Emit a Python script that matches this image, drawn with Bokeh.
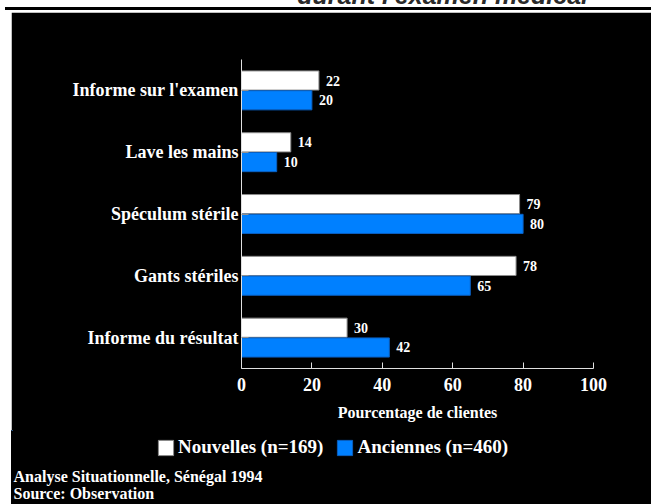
from bokeh.plotting import figure
from bokeh.models import (ColumnDataSource, FactorRange, Range1d, FixedTicker,
                          Legend, LegendItem, Label, Div)
from bokeh.transform import dodge
from bokeh.core.properties import value
from bokeh.embed import file_html
from bokeh.resources import INLINE

# ---- data ----
categories = ["Informe sur l'examen", "Lave les mains", "Spéculum stérile",
              "Gants stériles", "Informe du résultat"]
nouvelles = [22, 14, 79, 78, 30]
anciennes = [20, 10, 80, 65, 42]
x_ticks = [0, 20, 40, 60, 80, 100]
series_names = ["Nouvelles (n=169)", "Anciennes (n=460)"]
title_text = "durant l'examen médical"
x_label = "Pourcentage de clientes"
footer_lines = ["Analyse Situationnelle, Sénégal 1994", "Source: Observation"]

WHITE = "#ffffff"
BLUE = "#0080ff"
SERIF = "Liberation Serif"

src = ColumnDataSource(dict(
    cat=categories,
    nouvelles=nouvelles,
    anciennes=anciennes,
    nouvelles_txt=[str(v) for v in nouvelles],
    anciennes_txt=[str(v) for v in anciennes],
))

# ---- top strip (cut-off title and rule) ----
top_html = (
    '<div style="position:relative;width:651px;height:12px;overflow:hidden;background:white;">'
    '<div style="position:absolute;left:5px;top:7px;width:646px;height:3px;background:black;"></div>'
    '<div style="position:absolute;right:63px;top:-17px;font-family:\'Liberation Sans\';'
    'font-style:italic;font-weight:bold;font-size:25px;line-height:25px;'
    'color:#2a2a2a;white-space:nowrap;">' + title_text + '</div>'
    '</div>'
)
top = Div(text=top_html, width=651, height=12, margin=0,
          styles={"overflow": "hidden"})

# ---- main chart ----
p = figure(width=640, height=418,
           y_range=FactorRange(factors=categories[::-1], range_padding=0),
           x_range=Range1d(0, 100),
           toolbar_location=None, output_backend="svg",
           min_border_left=230, min_border_right=58,
           min_border_top=47, min_border_bottom=62)
p.margin = (0, 0, 0, 11)
p.background_fill_color = "black"
p.border_fill_color = "black"
p.outline_line_color = "black"
p.outline_line_width = 3
p.grid.visible = False

bar_h = 0.31
off = 0.16
p.hbar(y=dodge('cat', off, range=p.y_range), right='nouvelles', left=0,
       height=bar_h, source=src, fill_color=WHITE, line_color="#8a8a8a")
p.hbar(y=dodge('cat', -off, range=p.y_range), right='anciennes', left=0,
       height=bar_h, source=src, fill_color=BLUE, line_color="#0a5fc0")

for col, o in (("nouvelles", off), ("anciennes", -off)):
    p.text(x=col, y=dodge('cat', o, range=p.y_range), text=col + "_txt",
           source=src, x_offset=7, text_baseline="middle", text_align="left",
           text_font=value(SERIF), text_font_style="bold",
           text_font_size="14px", text_color="white")

xa = p.xaxis[0]
xa.ticker = FixedTicker(ticks=x_ticks)
xa.axis_line_color = "#e0e0e0"
xa.major_tick_line_color = "#e0e0e0"
xa.major_tick_in = 6
xa.major_tick_out = 0
xa.minor_tick_line_color = None
xa.major_label_text_color = "white"
xa.major_label_text_font = SERIF
xa.major_label_text_font_style = "bold"
xa.major_label_text_font_size = "18px"
xa.major_label_standoff = 9
xa.axis_label = x_label
xa.axis_label_text_color = "white"
xa.axis_label_text_font = SERIF
xa.axis_label_text_font_style = "bold"
xa.axis_label_text_font_size = "16px"
xa.axis_label_standoff = 10

ya = p.yaxis[0]
ya.axis_line_color = "#e0e0e0"
ya.major_tick_line_color = "#909090"
ya.major_tick_in = 7
ya.major_tick_out = 0
ya.minor_tick_line_color = None
ya.major_label_text_color = "white"
ya.major_label_text_font = SERIF
ya.major_label_text_font_style = "bold"
ya.major_label_text_font_size = "18px"
ya.major_label_standoff = 3

# ---- legend + source strip ----
b = figure(width=640, height=74, x_range=Range1d(0, 640), y_range=Range1d(74, 0),
           toolbar_location=None, output_backend="svg",
           x_axis_type=None, y_axis_type=None,
           min_border=0, min_border_left=0, min_border_right=0,
           min_border_top=0, min_border_bottom=0)
b.margin = (0, 0, 0, 11)
b.background_fill_color = "black"
b.border_fill_color = "black"
b.outline_line_color = "black"
b.outline_line_width = 3
b.grid.visible = False
# legend proxies (one point each, kept outside the visible range)
proxy = ColumnDataSource(dict(y=[-1000], right=[1]))
lr1 = b.hbar(y='y', right='right', left=0, height=1, source=proxy,
             fill_color=WHITE, line_color="#8a8a8a")
lr2 = b.hbar(y='y', right='right', left=0, height=1, source=proxy,
             fill_color=BLUE, line_color="#0a5fc0")
legend = Legend(items=[LegendItem(label=series_names[0], renderers=[lr1]),
                       LegendItem(label=series_names[1], renderers=[lr2])],
                orientation="horizontal", location=(145, 46),
                background_fill_alpha=0, border_line_color=None,
                padding=0, margin=0, spacing=12, label_standoff=3,
                glyph_width=19, glyph_height=19,
                label_text_color="white", label_text_font=SERIF,
                label_text_font_style="bold", label_text_font_size="19px")
b.add_layout(legend, "center")

for i, line in enumerate(footer_lines):
    b.add_layout(Label(x=2, y=46 + 17 * i, text=line, text_color="white",
                       text_font=SERIF, text_font_style="bold",
                       text_font_size="16px", text_baseline="alphabetic"))

open("out.html", "w").write(file_html([top, p, b], INLINE))
